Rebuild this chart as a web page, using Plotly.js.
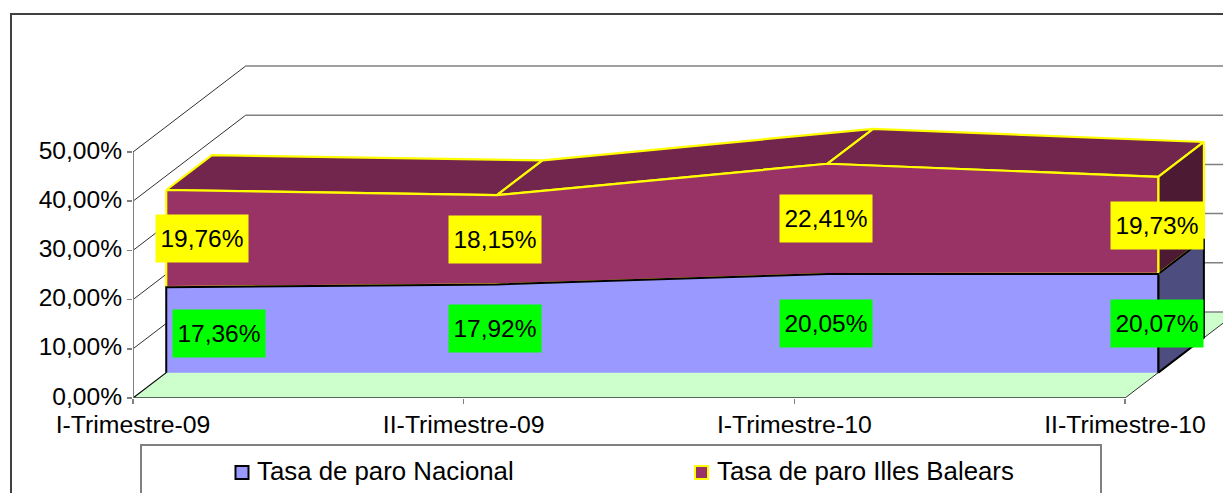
<!DOCTYPE html>
<html><head><meta charset="utf-8">
<script src="https://cdn.plot.ly/plotly-3.0.1.min.js"></script>
<style>html,body{margin:0;padding:0;background:#fff;overflow:hidden}</style>
</head><body><div id="chart" style="width:1223px;height:493px"></div>
<script>
const categories = ['I-Trimestre-09','II-Trimestre-09','I-Trimestre-10','II-Trimestre-10'];
const nacional = [17.36,17.92,20.05,20.07];
const baleares = [19.76,18.15,22.41,19.73];
const nacionalLabels = ['17,36%','17,92%','20,05%','20,07%'];
const balearesLabels = ['19,76%','18,15%','22,41%','19,73%'];
const yTicks = [0,10,20,30,40,50];
const yTickLabels = ['0,00%','10,00%','20,00%','30,00%','40,00%','50,00%'];
const serieNames = ['Tasa de paro Nacional','Tasa de paro Illes Balears'];

// oblique projection of the 3D box onto the 2D axes
const depthX = 0.3408, depthY = 17.48, front = 0.295, back = 0.70;
const pX = (i,d) => i + d*depthX;
const pY = (v,d) => v + d*depthY;
const idx = categories.map((_,i)=>i);
const n = categories.length-1;
const font = 'Liberation Sans, Arial, sans-serif';
const traces = [];
function poly(pts, fill, lineColor, lineWidth){
  traces.push({type:'scatter',mode:lineWidth?'lines':'none',x:pts.map(p=>pX(p[0],p[2])),y:pts.map(p=>pY(p[1],p[2])),
    fill:'toself',fillcolor:fill,line:{color:lineColor||fill,width:lineWidth||0},hoverinfo:'skip',showlegend:false,cliponaxis:false});
}
function line(pts,color,width){
  traces.push({type:'scatter',mode:'lines',x:pts.map(p=>pX(p[0],p[2])),y:pts.map(p=>pY(p[1],p[2])),
    line:{color:color,width:width},hoverinfo:'skip',showlegend:false,cliponaxis:false});
}
// back wall and side wall grid
yTicks.slice(1).forEach(v=>{
  line([[0,v,1],[n+1,v,1]],'#808080',1.5);
  line([[0,v,0],[0,v,1]],'#303030',1);
});
// floor
poly([[0,0,0],[n,0,0],[n,0,1],[n+1,0,1],[n+1,0,1],[0,0,1]],'#CCFFCC');
line([[0,0,1],[n+1,0,1]],'#808080',1.5);
line([[n,0,0],[n,0,1]],'#303030',1);
line([[0,0,0],[0,0,front]],'#000000',1.2);
line([[0,0,0],[n,0,0]],'#303030',1.5);
// y axis
line([[0,0,0],[0,50,0]],'#808080',2);

const cum = idx.map(i=>nacional[i]+baleares[i]);
// top series: top faces and side
for(let i=0;i<n;i++){
  poly([[i,cum[i],front],[i+1,cum[i+1],front],[i+1,cum[i+1],back],[i,cum[i],back],[i,cum[i],front]],'#73264D','#FFFF00',2.2);
}
poly([[n,nacional[n],front],[n,cum[n],front],[n,cum[n],back],[n,nacional[n],back],[n,nacional[n],front]],'#4D1A33','#FFFF00',2.2);
// lower series side face
poly([[n,0,front],[n,nacional[n],front],[n,nacional[n],back],[n,0,back],[n,0,front]],'#4D4D80','#000000',2);
// front faces
const upper = idx.map(i=>[i,cum[i],front]);
const mid = idx.map(i=>[i,nacional[i],front]);
poly(upper.concat(mid.slice().reverse()).concat([upper[0]]),'#993366','#FFFF00',2.2);
const base = idx.map(i=>[i,0,front]);
poly(base.slice().reverse().concat(mid).concat([base[n]]),'#9999FF');
// dark outline on three sides only: the bottom edge of this face has none
line([base[0]].concat(mid).concat([base[n]]),'#000000',2);

const label = (x,y,text,bg,xshift,yshift)=>({x:x,y:y,xref:'x',yref:'y',text:text,showarrow:false,bgcolor:bg,
  width:92,height:47,borderpad:0,xshift:xshift,yshift:yshift,align:'center',valign:'middle',font:{family:font,size:24.5,color:'#000'}});
const annotations = [];
idx.forEach(i=>{
  annotations.push(label(pX(i,front),pY(nacional[i]/2,front),nacionalLabels[i],'#00FF00',i===0?53:-1.5,i===0?-4:0));
  annotations.push(label(pX(i,front),pY(nacional[i]+baleares[i]/2,front),balearesLabels[i],'#FFFF00',i===0?36:-1.5,0));
});
// paper helpers: page pixels -> paper coordinates of the plot area
const L=133,T=0,W=1090,H=398;
const px=x=>(x-L)/W, py=y=>1-(y-T)/H;
const rect=(x0,y0,x1,y1,lc,lw,fc)=>({type:'rect',xref:'paper',yref:'paper',x0:px(x0),x1:px(x1),y0:py(y0),y1:py(y1),
  line:{color:lc,width:lw},fillcolor:fc||'rgba(0,0,0,0)',layer:'below'});
const shapes=[
  rect(11,14,1240,520,'#404040',2),
  rect(141,445,1101,520,'#808080',2),
  Object.assign(rect(235.5,466,248.5,479,'#000000',2,'#9999FF'),{layer:'above'}),
  Object.assign(rect(695,466,708,479,'#FFFF00',2,'#993366'),{layer:'above'})
];
const legendText=(x,text)=>({xref:'paper',yref:'paper',x:px(x),y:py(470.5),xanchor:'left',yanchor:'middle',text:text,showarrow:false,
  font:{family:font,size:25.8,color:'#000'}});
annotations.push(legendText(255,serieNames[0]));
annotations.push(legendText(715,serieNames[1]));

Plotly.newPlot('chart',traces,{
  width:1223,height:493,margin:{l:L,r:0,t:T,b:95,pad:0},
  paper_bgcolor:'#fff',plot_bgcolor:'rgba(0,0,0,0)',showlegend:false,
  font:{family:font,size:24,color:'#000'},
  xaxis:{range:[0,W/330.67],tickmode:'array',tickvals:idx,ticktext:categories,ticks:'outside',ticklen:5,tickwidth:1.5,tickcolor:'#808080',ticklabelstandoff:-1,
    showgrid:false,zeroline:false,showline:false,automargin:false,tickfont:{family:font,size:24.8,color:'#000'}},
  yaxis:{range:[0,H/4.92],tickmode:'array',tickvals:yTicks,ticktext:yTickLabels,ticks:'outside',ticklen:5,tickwidth:1.5,tickcolor:'#808080',ticklabelshift:-2,
    showgrid:false,zeroline:false,showline:false,automargin:false,tickfont:{family:font,size:24.6,color:'#000'}},
  annotations:annotations,shapes:shapes
},{displayModeBar:false,staticPlot:true});
</script></body></html>
